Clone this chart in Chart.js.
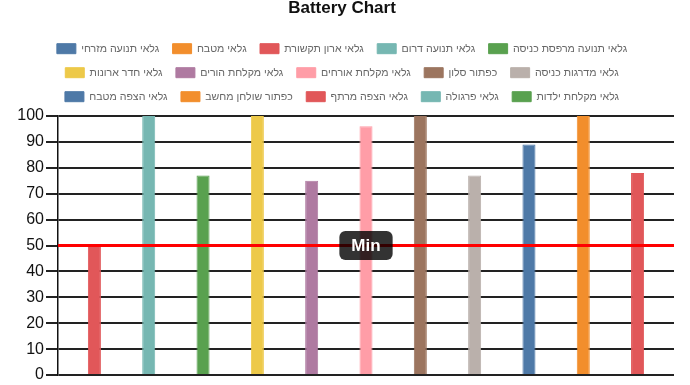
<!DOCTYPE html>
<html>
<head>
<meta charset="utf-8">
<script src="https://cdn.jsdelivr.net/npm/chart.js@4.4.1/dist/chart.umd.min.js"></script>
<style>
    body { margin: 0; background: #fff; }
    #wrap { width: 684px; height: 385px; position: relative; }
</style>
</head>
<body>
<div id="wrap"><canvas id="batteryChart"></canvas></div>
<script>
// Sensor names (legend order)
const sensorNames = [
    'גלאי תנועה מזרחי',
    'גלאי מטבח',
    'גלאי ארון תקשורת',
    'גלאי תנועה דרום',
    'גלאי תנועה מרפסת כניסה',
    'גלאי חדר ארונות',
    'גלאי מקלחת הורים',
    'גלאי מקלחת אורחים',
    'כפתור סלון',
    'גלאי מדרגות כניסה',
    'גלאי הצפה מטבח',
    'כפתור שולחן מחשב',
    'גלאי הצפה מרתף',
    'גלאי פרגולה',
    'גלאי מקלחת ילדות'
];

// Battery level per sensor (null = no reading)
const batteryLevels = [null, null, 50, 100, 77, 100, 75, 96, 100, 77, 89, 100, 78, null, null];

const categories = ['Battery'];
const yTicks = { min: 0, max: 100, step: 10 };
const minLevel = 50;

// Tableau 10 palette
const palette = ['#4e79a7', '#f28e2c', '#e15759', '#76b7b2', '#59a14f',
                 '#edc949', '#af7aa1', '#ff9da7', '#9c755f', '#bab0ab'];

const datasets = sensorNames.map((name, i) => ({
    label: name,
    data: [batteryLevels[i]],
    backgroundColor: palette[i % palette.length],
    borderColor: palette[i % palette.length],
    borderWidth: 1,
    skipNull: true,
    categoryPercentage: 0.97,
    barPercentage: 0.24
}));

// Simple horizontal "Min" line (no annotation plugin available)
const minLinePlugin = {
    id: 'minLine',
    beforeInit(chart) {
        // a little extra room under the legend
        const legend = chart.legend;
        if (legend) {
            const fit = legend.fit;
            legend.fit = function () {
                fit.call(this);
                this.height += 4;
            };
        }
    },
    afterDatasetsDraw(chart) {
        const { ctx, chartArea, scales } = chart;
        const y = scales.y.getPixelForValue(minLevel);
        ctx.save();
        ctx.strokeStyle = '#ff0000';
        ctx.lineWidth = 3;
        ctx.beginPath();
        ctx.moveTo(chartArea.left, y);
        ctx.lineTo(chartArea.right, y);
        ctx.stroke();

        // label
        const cx = (chartArea.left + chartArea.right) / 2;
        ctx.font = 'bold 17px "Liberation Sans", Arial, sans-serif';
        const w = ctx.measureText('Min').width + 12 * 2;
        const h = 29;
        ctx.fillStyle = 'rgba(0,0,0,0.8)';
        ctx.beginPath();
        ctx.roundRect(cx - w / 2, y - h / 2, w, h, 6);
        ctx.fill();
        ctx.fillStyle = '#fff';
        ctx.textAlign = 'center';
        ctx.textBaseline = 'middle';
        ctx.fillText('Min', cx, y + 1);
        ctx.restore();
    }
};

Chart.defaults.font.family = '"Liberation Sans", Arial, sans-serif';

const ctx = document.getElementById('batteryChart').getContext('2d');
new Chart(ctx, {
    type: 'bar',
    data: {
        labels: categories,
        datasets: datasets
    },
    plugins: [minLinePlugin],
    options: {
        responsive: true,
        maintainAspectRatio: false,
        animation: false,
        layout: {
            padding: { left: 10, right: 10, top: 0, bottom: 0 }
        },
        plugins: {
            title: {
                display: true,
                text: 'Battery Chart',
                color: '#111',
                font: { size: 17, weight: 'bold', lineHeight: 1.0 },
                padding: { top: 0, bottom: 13 }
            },
            legend: {
                labels: {
                    color: '#666',
                    font: { size: 10.6 },
                    boxWidth: 19,
                    boxHeight: 10,
                    padding: 13.4
                }
            },
            tooltip: { enabled: false }
        },
        scales: {
            x: {
                display: false
            },
            y: {
                min: yTicks.min,
                max: yTicks.max,
                afterFit(scale) { scale.width = 48; },
                border: { display: true, color: '#111', width: 1.5 },
                grid: {
                    color: '#222',
                    lineWidth: 2,
                    tickLength: 12
                },
                ticks: {
                    stepSize: yTicks.step,
                    color: '#111',
                    padding: 2,
                    font: { size: 16, lineHeight: 1.0 }
                }
            }
        }
    }
});
</script>
</body>
</html>
